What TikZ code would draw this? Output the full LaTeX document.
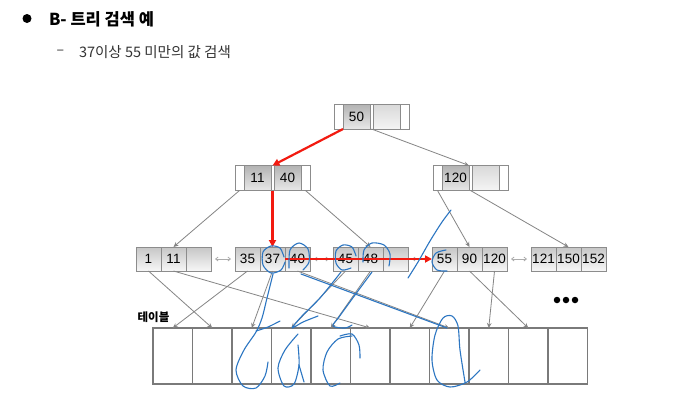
\documentclass[tikz,border=0pt]{standalone}
\usepackage{fontspec}
\setmainfont{Liberation Sans}
\newfontfamily\kr{Noto Sans CJK KR}
\usetikzlibrary{arrows.meta}
\definecolor{edgegray}{HTML}{858585}
\definecolor{boxgray}{HTML}{8C8C8C}
\definecolor{tablegray}{HTML}{7A7A7A}
\definecolor{scribblue}{HTML}{2C76C2}
\definecolor{hred}{HTML}{F21A10}
\definecolor{subtext}{HTML}{333333}
\begin{document}
\begin{tikzpicture}[x=1pt,y=-1pt,
  every node/.style={inner sep=0pt, outer sep=0pt},
  ptrcell/.style={draw=boxgray, line width=0.8pt, fill=white, minimum width=9pt, minimum height=25pt},
  thinptr/.style={ptrcell, minimum width=3pt},
  keycell/.style={draw=boxgray, line width=0.8pt, top color=gray!60, bottom color=gray!18, minimum width=27pt, minimum height=25pt, font=\fontsize{13.5}{15}\selectfont},
  emptykey/.style={keycell, top color=gray!30, bottom color=gray!8},
  leafcell/.style={draw=boxgray, line width=0.8pt, top color=gray!45, bottom color=gray!6, minimum width=25pt, minimum height=24pt, font=\fontsize{13.5}{15}\selectfont},
  tcell/.style={draw=tablegray, line width=1.1pt, minimum width=39.5pt, minimum height=56pt},
  edge/.style={draw=edgegray, line width=0.8pt, -{Stealth[length=5pt,width=4.5pt]}},
  link/.style={draw=gray!65, line width=0.8pt, {Straight Barb[length=2.5pt,width=4pt]}-{Straight Barb[length=2.5pt,width=4pt]}, shorten <=4pt, shorten >=4pt},
  redarrow/.style={draw=hred, line width=2.2pt, -{Triangle[length=7pt,width=7pt]}},
  scribble/.style={draw=scribblue, line width=1.1pt, line cap=round, line join=round}]
\useasboundingbox[fill=white] (0,0) rectangle (682,400);

% header
\node[circle, fill=black, minimum size=9pt] (bul) at (27,18.5) {};
\node[font=\kr\bfseries\fontsize{16.5}{19}\selectfont, anchor=west] (title) at (49,19) {B- 트리 검색 예};
\node[font=\kr\fontsize{14}{16}\selectfont, text=subtext] (dash) at (60.5,52) {–};
\node[font=\kr\fontsize{14.5}{17}\selectfont, text=subtext, anchor=west] (sub) at (79,52) {37이상 55 미만의 값 검색};

% root
\node[ptrcell, anchor=west] (r0) at (334,116.5) {};
\node[keycell, anchor=west] (r1) at (r0.east) {50};
\node[thinptr, anchor=west] (rp) at (r1.east) {};
\node[emptykey, anchor=west] (r2) at (rp.east) {};
\node[ptrcell, anchor=west] (r3) at (r2.east) {};

% internal 11 40
\node[ptrcell, anchor=west] (a0) at (235,178) {};
\node[keycell, anchor=west] (a1) at (a0.east) {11};
\node[thinptr, anchor=west] (ap) at (a1.east) {};
\node[keycell, anchor=west] (a2) at (ap.east) {40};
\node[ptrcell, anchor=west] (a3) at (a2.east) {};

% internal 120
\node[ptrcell, anchor=west] (b0) at (433,178) {};
\node[keycell, anchor=west] (b1) at (b0.east) {120};
\node[thinptr, anchor=west] (bp) at (b1.east) {};
\node[emptykey, anchor=west] (b2) at (bp.east) {};
\node[ptrcell, anchor=west] (b3) at (b2.east) {};

% leaves
\node[leafcell, anchor=west] (k1) at (136,259) {1};
\node[leafcell, anchor=west] (k11) at (k1.east) {11};
\node[leafcell, anchor=west] (kE1) at (k11.east) {};
\node[leafcell, anchor=west] (k35) at (235,259) {35};
\node[leafcell, anchor=west] (k37) at (k35.east) {37};
\node[leafcell, anchor=west] (k40) at (k37.east) {40};
\node[leafcell, anchor=west] (k45) at (333,259) {45};
\node[leafcell, anchor=west] (k48) at (k45.east) {48};
\node[leafcell, anchor=west] (kE3) at (k48.east) {};
\node[leafcell, anchor=west] (k55) at (432,259) {55};
\node[leafcell, anchor=west] (k90) at (k55.east) {90};
\node[leafcell, anchor=west] (k120) at (k90.east) {120};
\node[leafcell, anchor=west] (k121) at (531,259) {121};
\node[leafcell, anchor=west] (k150) at (k121.east) {150};
\node[leafcell, anchor=west] (k152) at (k150.east) {152};

% table
\foreach \i in {1,...,11}
  \node[tcell] (t\i) at ({153+39.5*(\i-0.5)},356) {};
\node[font=\kr\bfseries\fontsize{11.5}{13}\selectfont] (tlabel) at (153.5,317) {테이블};
\foreach \x [count=\n] in {557,566,575}
  \node[circle, fill=black, minimum size=6.5pt] (dot\n) at (\x,300) {};

% tree edges
\draw[edge] (rp.south) -- (b1.north east);
\draw[edge] (a0.south) -- (k11.north);
\draw[edge] (a3.south) -- (k48.north);
\draw[edge] (b0.south) -- (k90.north);
\draw[edge] (bp.south) -- (k150.north);

% leaf links
\draw[link] (kE1.east) -- (k35.west);
\draw[link] (k40.east) -- (k45.west);
\draw[link] (kE3.east) -- (k55.west);
\draw[link] (k120.east) -- (k121.west);

% leaf to table
\draw[edge] (k1.south) -- (t2.north);
\draw[edge] (k11.south) -- (t6.north);
\draw[edge] (k35.south) -- (t1.north);
\draw[edge] (k37.south) -- (t3.north);
\draw[edge] (k40.south) -- (t8.north);
\draw[edge] (k45.south) -- (t4.north);
\draw[edge] (k48.south) -- (t5.north);
\draw[edge] (k55.south) -- (t7.north);
\draw[edge] (k90.south) -- (t10.north);
\draw[edge] (k120.south) -- (t9.north);

% search path (red)
\draw[redarrow] (r0.south east) -- (ap.north);
\draw[redarrow] (ap.south) -- (k37.north);
\draw[redarrow] (k40.west) -- (k55.west);

% handwritten marks
\draw[scribble] plot[smooth] coordinates {(284,257) (280,248) (271,246) (263,252) (263,265) (271,273) (281,270) (285,262)};
\draw[scribble] plot[smooth] coordinates {(273,274) (267,298) (262,318) (256,332) (244,350) (236,370) (243,386) (256,388) (265,376) (268,362)};
\draw[scribble] plot[smooth] coordinates {(256,331) (268,327) (280,321)};
\draw[scribble] plot[smooth] coordinates {(289,268) (290,250) (299,243) (308,249) (309,262) (303,270)};
\draw[scribble] (301,274) -- (447,328);
\draw[scribble] plot[smooth] coordinates {(356,256) (352,247) (343,245) (336,251) (336,263) (342,270) (351,268)};
\draw[scribble] plot[smooth] coordinates {(363,262) (364,250) (372,243) (384,245) (390,254) (389,266)};
\draw[scribble] plot[smooth] coordinates {(341,272) (320,298) (302,316) (292,328) (303,322) (318,316)};
\draw[scribble] plot[smooth] coordinates {(298,334) (285,350) (278,368) (284,386) (294,384) (299,365) (298,345)};
\draw[scribble] plot[smooth] coordinates {(299,365) (304,382)};
\draw[scribble] plot[smooth] coordinates {(372,272) (355,295) (339,317) (333,326) (345,328) (352,325)};
\draw[scribble] plot[smooth] coordinates {(352,336) (338,339) (327,352) (323,370) (330,386) (340,383)};
\draw[scribble] plot[smooth] coordinates {(340,336) (352,334) (359,345) (360,358)};
\draw[scribble] plot[smooth] coordinates {(446,250) (436,253) (432,262) (437,270) (447,271)};
\draw[scribble] plot[smooth] coordinates {(408,278) (418,262) (430,241) (442,222) (451,210)};
\draw[scribble] plot[smooth] coordinates {(465,382) (460,350) (458,326) (452,316) (443,318) (435,335) (432,360) (437,380) (450,387) (467,382) (480,370)};
\end{tikzpicture}
\end{document}
